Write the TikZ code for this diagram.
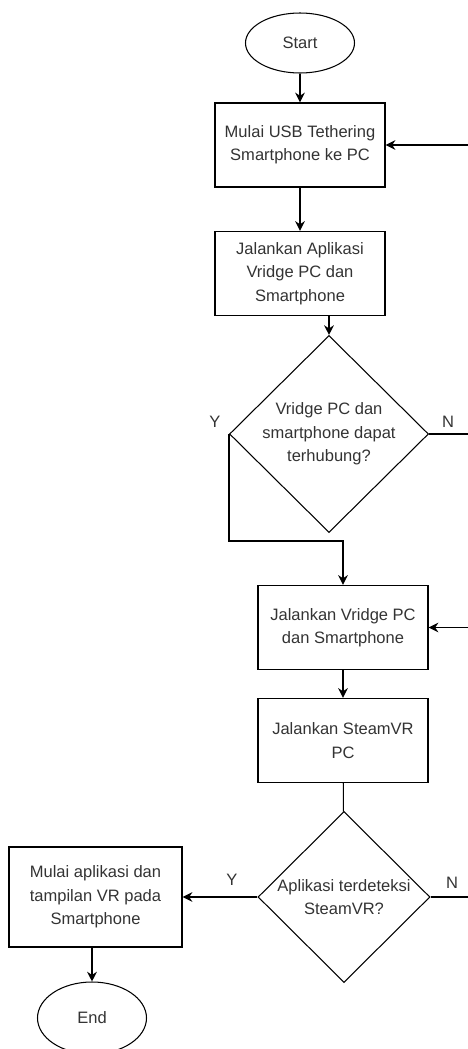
\documentclass[tikz,border=0pt]{standalone}
\usepackage{fontspec}
\setmainfont{Liberation Sans}
\usepackage{tikz}
\usetikzlibrary{positioning}
\usetikzlibrary{arrows.meta}
\usetikzlibrary{shapes.geometric}

\begin{document}
\begin{tikzpicture}[
            font=\fontsize{9.4}{13.3}\selectfont,
            block/.style={
                draw,
                line width=0.8pt,
                align=center,
                text=black!80,
                minimum width=3.4cm,
                minimum height=1.68cm
            },
            terminal/.style={
                draw,
                ellipse,
                line width=0.6pt,
                text=black!80,
                minimum width=2.18cm,
                minimum height=1.2cm
            },
            decision/.style={
                draw,
                diamond,
                line width=0.6pt,
                align=center,
                text=black!80,
                inner sep=0pt
            },
            panah/.style={-{Stealth[length=5.5pt, width=5.5pt]}, line width=0.8pt},
            garis/.style={line width=0.6pt},
            label/.style={text=black!80}
        ]

        \useasboundingbox (0,0) rectangle (9.36,-20.98);

        \node[terminal] (start) at (6.0,-0.86) {Start};

        \node[block] (tethering) at (6.0,-2.9)
            {Mulai USB Tethering\\
            Smartphone ke PC};

        \node[block] (aplikasi) at (6.0,-5.47)
            {Jalankan Aplikasi\\
            Vridge PC dan\\
            Smartphone};

        \node[decision, minimum width=3.98cm, minimum height=3.94cm] (terhubung) at (6.58,-8.68)
            {Vridge PC dan\\
            smartphone dapat\\
            terhubung?};

        \node[block] (vridge) at (6.86,-12.55)
            {Jalankan Vridge PC\\
            dan Smartphone};

        \node[block] (steamvr) at (6.86,-14.81)
            {Jalankan SteamVR\\
            PC};

        \node[decision, minimum width=3.44cm, minimum height=3.42cm] (terdeteksi) at (6.88,-17.94)
            {Aplikasi terdeteksi\\
            SteamVR?};

        \node[block, minimum width=3.46cm, minimum height=2cm] (tampilan) at (1.91,-17.94)
            {Mulai aplikasi dan\\
            tampilan VR pada\\
            Smartphone};

        \node[terminal, minimum height=1.44cm] (end) at (1.84,-20.36) {End};

        % label cabang
        \node[label] (y1) at (4.3,-8.44) {Y};
        \node[label] (n1) at (8.96,-8.44) {N};
        \node[label] (y2) at (4.64,-17.6) {Y};
        \node[label] (n2) at (9.04,-17.66) {N};

        % ujung di tepi kanan
        \coordinate (kanan1) at (9.36,-2.9);
        \coordinate (kanan2) at (9.36,-8.68);
        \coordinate (kanan3) at (9.36,-12.55);
        \coordinate (kanan4) at (9.36,-17.94);

        \draw[panah] (start) -- (tethering);
        \draw[panah] (tethering) -- (aplikasi);
        \draw[panah] (terhubung.north |- aplikasi.south) -- (terhubung.north);
        \draw[panah] (terhubung.west) -- ++(0,-2.14) -| (vridge.north);
        \draw[garis] (terhubung.east) -- (kanan2);
        \draw[panah] (kanan1) -- (tethering.east);
        \draw[panah] (kanan3) -- (vridge.east);
        \draw[panah] (vridge) -- (steamvr);
        \draw[garis] (steamvr) -- (terdeteksi);
        \draw[garis] (terdeteksi.east) -- (kanan4);
        \draw[panah] (terdeteksi.west) -- (tampilan.east);
        \draw[panah] (tampilan.south -| end.north) -- (end.north);

    \end{tikzpicture}
\end{document}
